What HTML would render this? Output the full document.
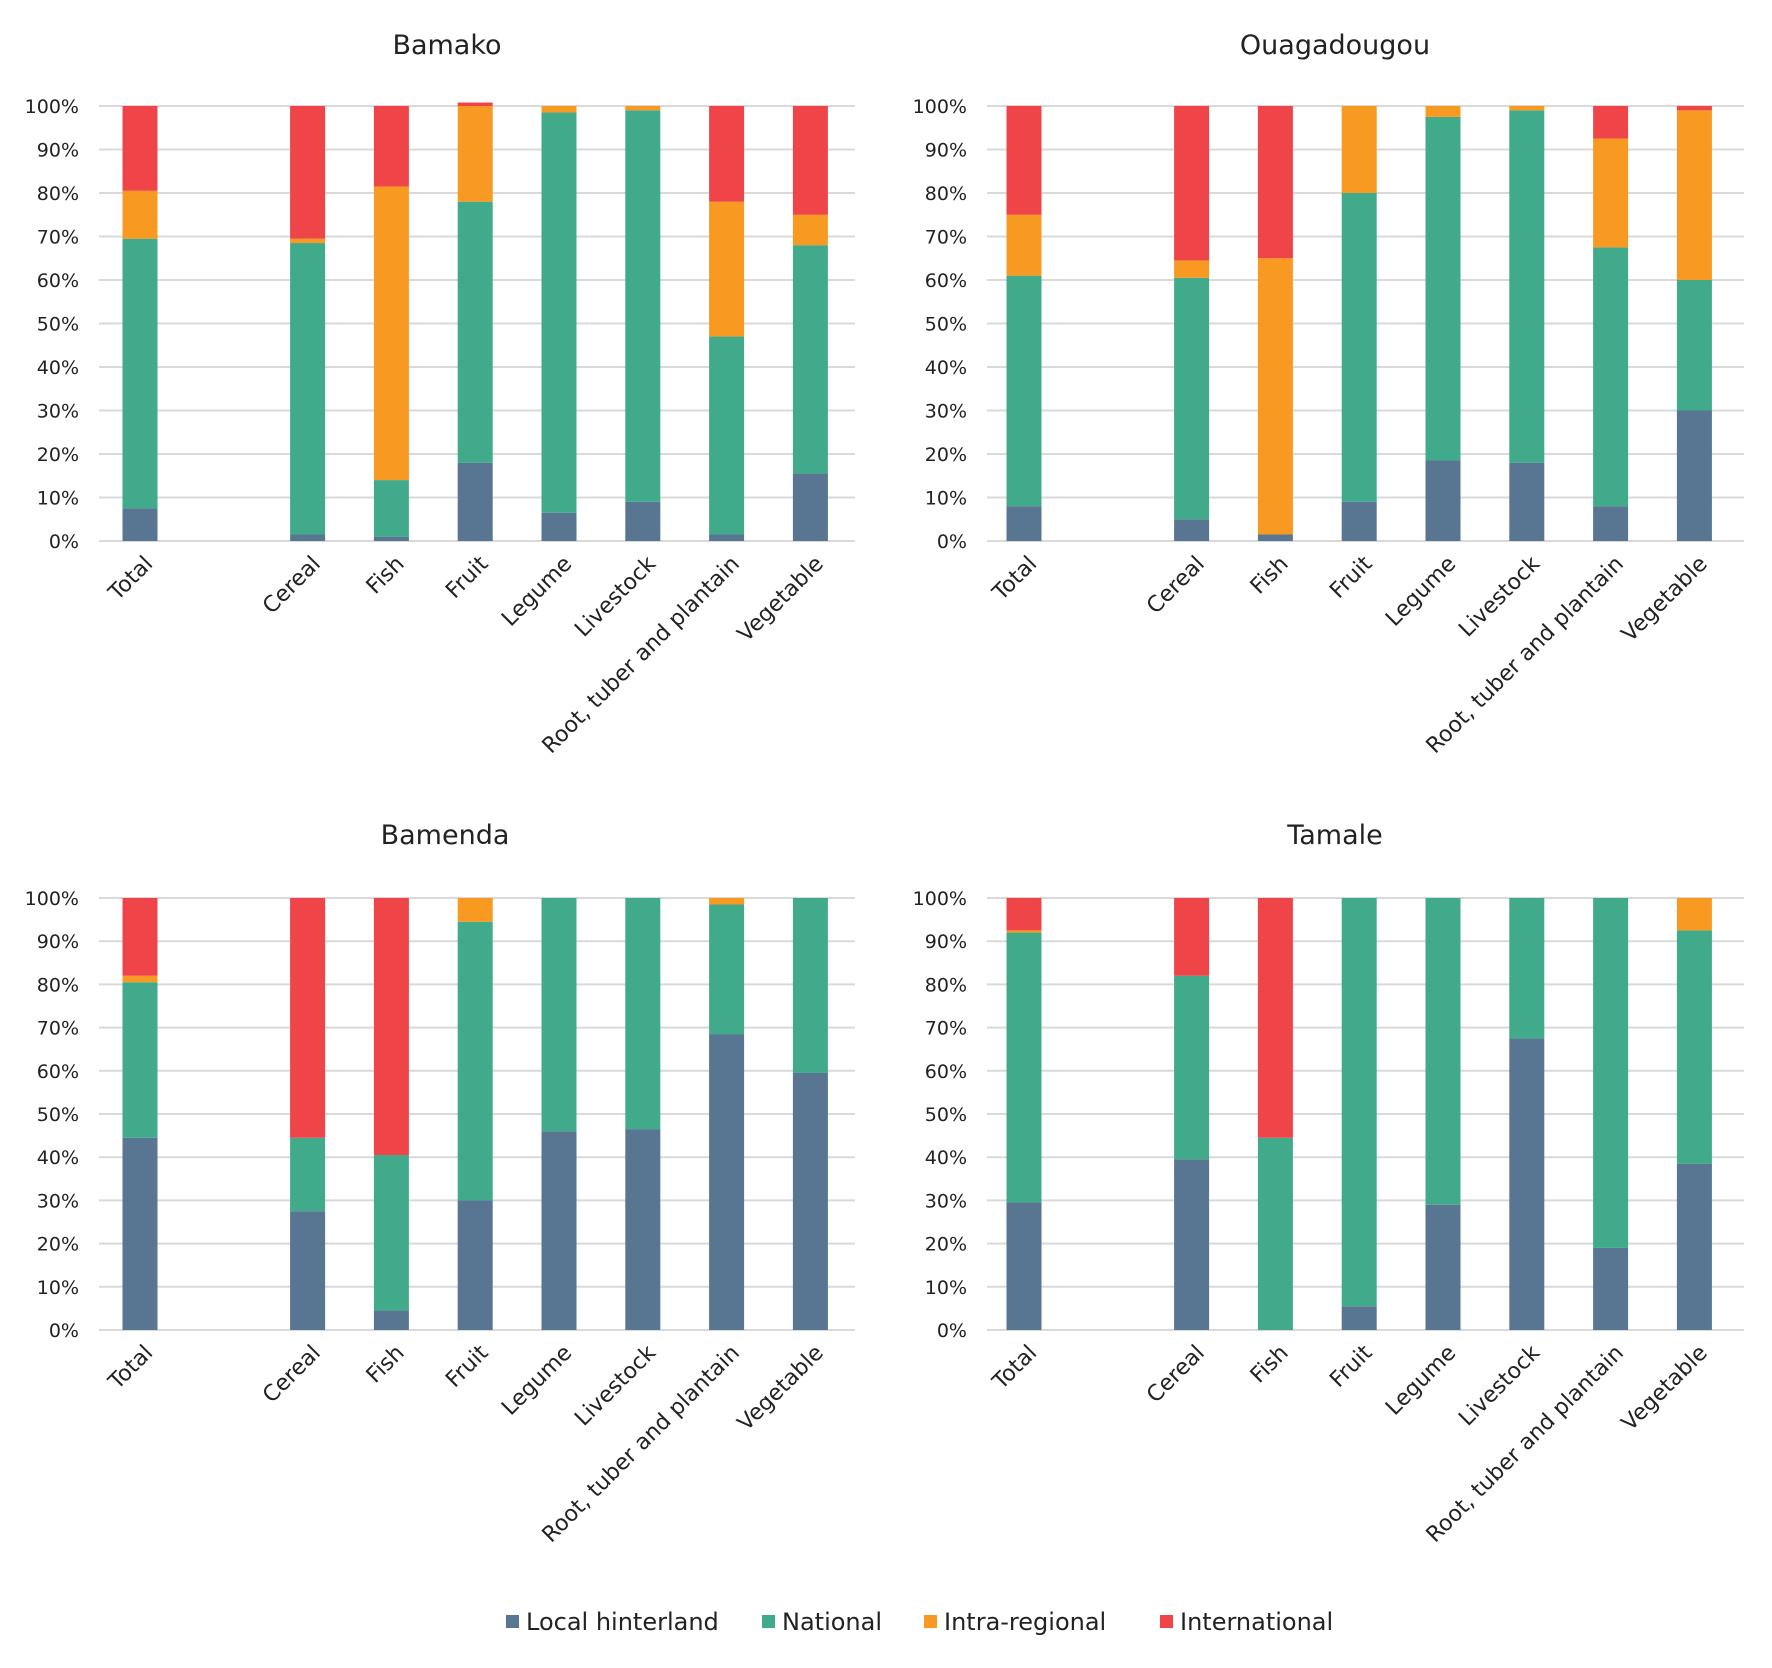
<!DOCTYPE html>
<html><head><meta charset="utf-8">
<style>
body{margin:0;background:#fff;}
svg{display:block;font-family:"DejaVu Sans","Liberation Sans",sans-serif;}
</style></head>
<body>
<svg id="chart" width="1772" height="1668" viewBox="0 0 1772 1668"></svg>
<script>
const categories = ["Total","","Cereal","Fish","Fruit","Legume","Livestock","Root, tuber and plantain","Vegetable"];
const seriesNames = ["Local hinterland","National","Intra-regional","International"];
const colors = ["#587591","#41aa8b","#f89a22","#ef4549"];
const yTicks = [0,10,20,30,40,50,60,70,80,90,100];
const panelTitles = ["Bamako","Ouagadougou","Bamenda","Tamale"];
// per panel: rows per category [local, national, intra, international]
const bamako = [[7.5,62,11,19.5],null,[1.5,67,1,30.5],[1,13,67.5,18.5],[18,60,22,0.8],[6.5,92,1.5,0],[9,90,1,0],[1.5,45.5,31,22],[15.5,52.5,7,25]];
const ouaga = [[8,53,14,25],null,[5,55.5,4,35.5],[1.5,0,63.5,35],[9,71,20,0],[18.5,79,2.5,0],[18,81,1,0],[8,59.5,25,7.5],[30,30,39,1]];
const bamenda = [[44.5,36,1.5,18],null,[27.5,17,0,55.5],[4.5,36,0,59.5],[30,64.5,5.5,0],[46,54,0,0],[46.5,53.5,0,0],[68.5,30,1.5,0],[59.5,40.5,0,0]];
const tamale = [[29.5,62.5,0.5,7.5],null,[39.5,42.5,0,18],[0,44.5,0,55.5],[5.5,94.5,0,0],[29,71,0,0],[67.5,32.5,0,0],[19,81,0,0],[38.5,54,7.5,0]];
const panelData = [bamako, ouaga, bamenda, tamale];

const NS="http://www.w3.org/2000/svg";
const svg=document.getElementById('chart');
function mk(tag,attrs,parent){const e=document.createElementNS(NS,tag);for(const k in attrs)e.setAttribute(k,attrs[k]);(parent||svg).appendChild(e);return e;}
const layout=[{l:99,r:855,t:106,b:541,ty:54,tx:447,off:41},{l:987,r:1744,t:106,b:541,ty:54,tx:1335,off:37},{l:99,r:855,t:898,b:1330,ty:844,tx:445,off:41},{l:987,r:1744,t:898,b:1330,ty:844,tx:1335,off:37}];

panelData.forEach((data,pi)=>{
  const L=layout[pi];
  const g=mk('g',{});
  
  
  const y=v=>L.b-(v/100)*(L.b-L.t);
  const slot=83.8;
  const x=i=>L.l+L.off+slot*i;
  const t=mk('text',{x:L.tx,y:L.ty,'text-anchor':'middle','font-size':27,fill:'#222'},g);
  t.textContent=panelTitles[pi];
  
  
  yTicks.forEach(v=>{
    const ln=mk('line',{x1:L.l,x2:L.r,y1:y(v),y2:y(v),stroke:'#d9d9d9','stroke-width':2},g);
    
    
    const tx=mk('text',{x:79,y:y(v)+7,'text-anchor':'end','font-size':19,fill:'#222'},g);
    if(pi%2===1)tx.setAttribute('x',967);
    tx.textContent=v+'%';
    
    
  });
  const bw=35;
  data.forEach((row,ci)=>{
    if(!row)return;
    let cum=0;
    row.forEach((v,si)=>{
      if(v<=0)return;
      const r=mk('rect',{x:x(ci)-bw/2,y:y(cum+v),width:bw,height:y(cum)-y(cum+v),fill:colors[si]},g);
      
      
      cum+=v;
    });
  });
  categories.forEach((c,ci)=>{
    if(!c)return;
    const cx=x(ci)+14, cy=L.b+24;
    const tx=mk('text',{x:cx,y:cy,'text-anchor':'end','font-size':22,fill:'#222',transform:`rotate(-45 ${cx} ${cy})`},g);
    tx.textContent=c;
    
    
  });
});
const lg=mk('g',{});


const lx=[506,762,924,1160];
seriesNames.forEach((n,i)=>{
  const r=mk('rect',{x:lx[i],y:1615,width:13,height:13,fill:colors[i]},lg);
  
  
  const t=mk('text',{x:lx[i]+20,y:1630,'font-size':24,fill:'#222'},lg);
  t.textContent=n;
  
  
});
</script>
</body></html>
